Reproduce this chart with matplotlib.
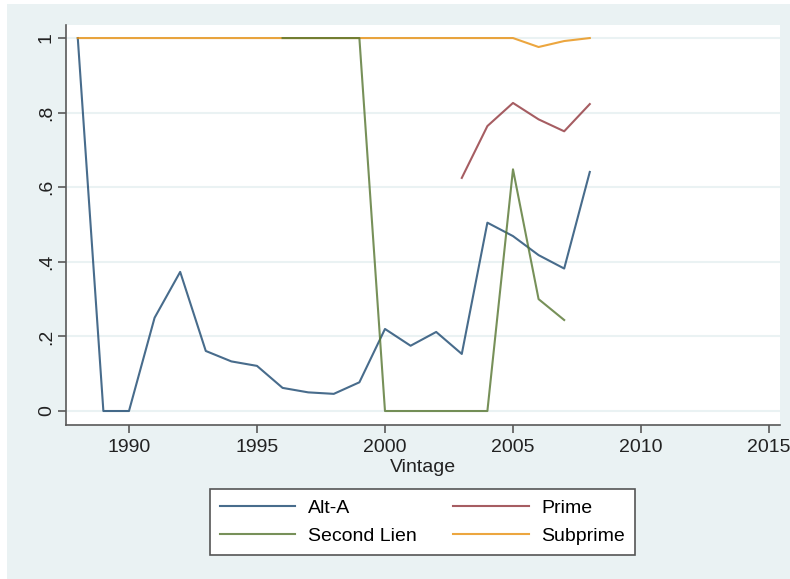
import matplotlib
matplotlib.use("Agg")
import matplotlib.pyplot as plt
from matplotlib.patches import Rectangle
import numpy as np

plt.rcParams['font.family'] = ['Liberation Sans', 'DejaVu Sans']

years_alt = list(range(1988, 2009))
alt_a = [1.0, 0.0, 0.0, 0.25, 0.373, 0.161, 0.133, 0.121, 0.062, 0.050, 0.046,
         0.077, 0.220, 0.175, 0.212, 0.153, 0.505, 0.469, 0.418, 0.382, 0.641]

years_prime = list(range(2003, 2009))
prime = [0.625, 0.764, 0.826, 0.782, 0.750, 0.823]

years_second = list(range(1996, 2008))
second_lien = [1.0, 1.0, 1.0, 1.0, 0.0, 0.0, 0.0, 0.0, 0.0, 0.648, 0.300, 0.244]

years_sub = list(range(1988, 2009))
subprime = [1.0] * 18 + [0.976, 0.992, 1.0]

xticks = [1990, 1995, 2000, 2005, 2010, 2015]
yticks = [0, 0.2, 0.4, 0.6, 0.8, 1.0]
ytick_labels = ["0", ".2", ".4", ".6", ".8", "1"]

W, H = 790, 579
fig = plt.figure(figsize=(W / 100, H / 100), dpi=100)
fig.patch.set_facecolor('white')
bg = '#eaf2f3'
fig.patches.append(Rectangle((7 / W, 0), (W - 7) / W, (H - 4) / H,
                             transform=fig.transFigure, facecolor=bg,
                             edgecolor='none', zorder=-10))

ax = fig.add_axes([66 / W, (H - 425) / H, (780 - 66) / W, (425 - 25) / H])
ax.set_facecolor('white')

alpha = 0.8
l1, = ax.plot(years_alt, alt_a, color='#1a476f', lw=1.5, alpha=alpha, label='Alt-A')
l2, = ax.plot(years_prime, prime, color='#90353b', lw=1.5, alpha=alpha, label='Prime')
l4, = ax.plot(years_sub, subprime, color='#e8900f', lw=1.5, alpha=alpha, label='Subprime')
l3, = ax.plot(years_second, second_lien, color='#55752f', lw=1.5, alpha=alpha, label='Second Lien')

fs = 14
ax.set_xlim(1987.54, 2015.43)
ax.set_ylim(-0.0375, 1.035)
ax.set_xticks(xticks)
ax.set_xticklabels([str(x) for x in xticks], fontsize=fs)
ax.set_yticks(yticks)
ax.set_yticklabels(ytick_labels, fontsize=fs, rotation=90, va='center')
ax.grid(axis='y', color=bg, lw=1.5)
ax.set_axisbelow(True)
for s in ['top', 'right']:
    ax.spines[s].set_visible(False)
for s in ['left', 'bottom']:
    ax.spines[s].set_color('#595959')
    ax.spines[s].set_linewidth(1.2)
ax.tick_params(axis='x', direction='out', length=6, width=1.2, color='#595959',
               labelcolor='#222222', pad=4)
ax.tick_params(axis='y', direction='out', length=6, width=1.2, color='#595959',
               labelcolor='#222222', pad=2)
ax.set_xlabel('Vintage', fontsize=fs, color='#222222', labelpad=2)

leg = fig.legend(handles=[l1, l3, l2, l4], labels=['Alt-A', 'Second Lien', 'Prime', 'Subprime'],
                 ncol=2, loc='center', bbox_to_anchor=(422.5 / W, (H - 522) / H),
                 fontsize=fs, frameon=True, fancybox=False, handlelength=3.86,
                 columnspacing=1.9, handletextpad=0.67, borderpad=0.5, labelspacing=0.55,
                 borderaxespad=0, framealpha=1.0)
leg.get_frame().set_edgecolor('#555555')
leg.get_frame().set_linewidth(1.2)
leg.get_frame().set_facecolor('white')

fig.savefig('out.png', dpi=100, facecolor=fig.get_facecolor())
